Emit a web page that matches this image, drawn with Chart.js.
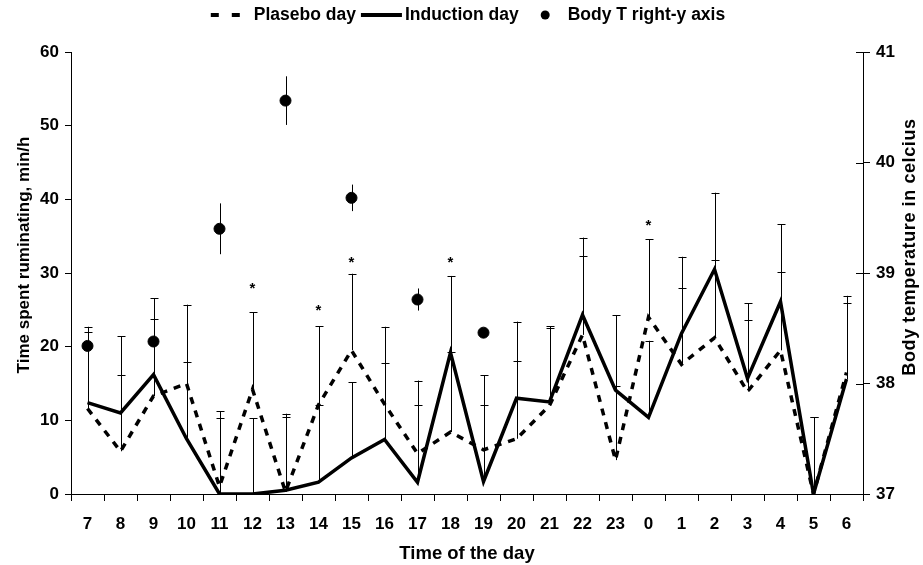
<!DOCTYPE html>
<html>
<head>
<meta charset="utf-8">
<script src="https://cdn.jsdelivr.net/npm/chart.js@4.4.1/dist/chart.umd.min.js"></script>
<style>
  html, body { margin: 0; padding: 0; background: #fff; }
  #wrap { width: 923px; height: 565px; }
</style>
</head>
<body>
<div id="wrap"><canvas id="c" width="923" height="565"></canvas></div>
<script>
// ---- data ----
const hours = ['7','8','9','10','11','12','13','14','15','16','17','18','19','20','21','22','23','0','1','2','3','4','5','6'];
const seriesNames = ['Plasebo day', 'Induction day', 'Body T right-y axis'];
const placebo   = [11.6, 5.8, 13.3, 15.0, 1.0, 14.2, 0.3, 12.1, 19.5, 12.2, 5.5, 8.4, 6.0, 7.5, 12.0, 21.6, 4.6, 24.0, 17.6, 21.2, 13.9, 19.5, 0, 16.5];
const placeboErr = [10.4, 10.3, 10.4, 10.7, 10.2, 10.5, 10.1, 10.7, 10.4, 10.5, 9.9, 10.9, 10.1, 10.5, 10.6, 10.7, 10.0, 10.6, 10.4, 10.6, 9.7, 10.6, 10.4, 10.4];
const induction = [12.4, 11.0, 16.2, 7.5, 0, 0, 0.5, 1.6, 4.9, 7.4, 1.6, 19.2, 1.7, 13.0, 12.5, 24.3, 14.1, 10.4, 21.8, 30.5, 15.7, 26.1, 0, 15.6];
const inductionErr = [10.3, 10.4, 10.4, 10.4, 10.3, 10.3, 10.4, 10.5, 10.3, 10.4, 10.5, 10.4, 10.4, 10.4, 10.3, 10.5, 10.2, 10.4, 10.4, 10.4, 10.2, 10.5, 10.4, 10.3];
const bodyT    = [38.34, null, 38.38, null, 39.40, null, 40.56, null, 39.68, null, 38.76, null, 38.46, null, null, null, null, null, null, null, null, null, null, null];
const bodyTErr = [0.08, null, 0.10, null, 0.23, null, 0.22, null, 0.12, null, 0.10, null, 0.03, null, null, null, null, null, null, null, null, null, null, null];
const starValues = [null, null, null, null, null, 28.4, null, 25.4, 32.0, null, null, 32.0, null, null, null, null, null, 37.0, null, null, null, null, null, null];
const yTicksLeft = { min: 0, max: 60, step: 10 };
const yTicksRight = { min: 37, max: 41, step: 1 };
const xTitle = 'Time of the day';
const yTitleLeft = 'Time spent ruminating, min/h';
const yTitleRight = 'Body temperature in celcius';

const FONT = '"Liberation Sans", Arial, sans-serif';
const tickFont = { family: FONT, size: 17, weight: 'bold' };

const extras = {
  id: 'extras',
  beforeDatasetsDraw(chart) {
    const ctx = chart.ctx;
    const xs = chart.scales.x;
    ctx.save();
    ctx.strokeStyle = '#000';
    ctx.lineWidth = 1;
    const drawErr = (dsIndex, vals, errs, both, cap) => {
      const ys = chart.scales[chart.getDatasetMeta(dsIndex).yAxisID];
      vals.forEach((v, i) => {
        if (v == null || errs[i] == null) return;
        const x = Math.round(xs.getPixelForValue(i)) + 0.5;
        const y0 = ys.getPixelForValue(both ? v - errs[i] : v);
        const y1 = ys.getPixelForValue(v + errs[i]);
        ctx.beginPath();
        ctx.moveTo(x, y0); ctx.lineTo(x, y1);
        if (cap) { ctx.moveTo(x - 4, Math.round(y1) + 0.5); ctx.lineTo(x + 4, Math.round(y1) + 0.5); }
        ctx.stroke();
      });
    };
    drawErr(0, placebo, placeboErr, false, true);
    drawErr(1, induction, inductionErr, false, true);
    drawErr(2, bodyT, bodyTErr, true, false);
    ctx.restore();
  },
  afterDraw(chart) {
    const ctx = chart.ctx;
    const xs = chart.scales.x, ys = chart.scales.y, y2 = chart.scales.y2;
    const ca = chart.chartArea;
    ctx.save();
    // inner half of the crossing ticks on the right axis
    ctx.strokeStyle = '#000'; ctx.lineWidth = 1;
    for (let v = yTicksRight.min; v <= yTicksRight.max; v += yTicksRight.step) {
      const y = Math.round(y2.getPixelForValue(v)) + 0.5;
      ctx.beginPath(); ctx.moveTo(ca.right - 7, y); ctx.lineTo(ca.right, y); ctx.stroke();
    }
    // asterisks
    ctx.fillStyle = '#000';
    ctx.font = 'bold 15px ' + FONT;
    ctx.textAlign = 'center';
    ctx.textBaseline = 'alphabetic';
    starValues.forEach((v, i) => {
      if (v == null) return;
      ctx.fillText('*', xs.getPixelForValue(i), ys.getPixelForValue(v) + 8.5);
    });
    // axis titles (rotated, reading upward)
    ctx.font = 'bold 17px ' + FONT;
    ctx.textBaseline = 'middle';
    ctx.save();
    ctx.translate(24, 255); ctx.rotate(-Math.PI / 2);
    ctx.fillText(yTitleLeft, 0, 0);
    ctx.restore();
    ctx.save();
    ctx.font = 'bold 18px ' + FONT;
    ctx.letterSpacing = '0.6px';
    ctx.translate(910, 247); ctx.rotate(-Math.PI / 2);
    ctx.fillText(yTitleRight, 0, 0);
    ctx.restore();
    // legend
    ctx.font = 'bold 17.5px ' + FONT;
    const w = seriesNames.map(t => ctx.measureText(t).width);
    const parts = [36, 9, w[0], 5, 41, 3, w[1], 22, 9, 18, w[2]];
    const total = parts.reduce((a, b) => a + b, 0);
    let x = (ca.left + ca.right) / 2 - total / 2;
    const ly = 15;
    ctx.textAlign = 'left';
    ctx.lineWidth = 4;
    ctx.setLineDash([8, 13]);
    ctx.beginPath(); ctx.moveTo(x + 2, ly); ctx.lineTo(x + 36, ly); ctx.stroke();
    ctx.setLineDash([]);
    x += 36 + 9;
    ctx.fillText(seriesNames[0], x, ly);
    x += w[0] + 5;
    ctx.beginPath(); ctx.moveTo(x, ly); ctx.lineTo(x + 41, ly); ctx.stroke();
    x += 41 + 3;
    ctx.fillText(seriesNames[1], x, ly);
    x += w[1] + 22;
    ctx.beginPath(); ctx.arc(x + 4.5, ly, 4.5, 0, Math.PI * 2); ctx.fill();
    x += 9 + 18;
    ctx.fillText(seriesNames[2], x, ly);
    ctx.restore();
  }
};

new Chart(document.getElementById('c'), {
  type: 'line',
  data: {
    labels: hours,
    datasets: [
      { label: seriesNames[0], data: placebo, yAxisID: 'y', borderColor: '#000', borderWidth: 3.5,
        borderDash: [7, 7], pointRadius: 0, tension: 0, fill: false },
      { label: seriesNames[1], data: induction, yAxisID: 'y', borderColor: '#000', borderWidth: 3.5,
        pointRadius: 0, tension: 0, fill: false },
      { label: seriesNames[2], data: bodyT, yAxisID: 'y2', showLine: false, pointRadius: 5.5,
        pointBackgroundColor: '#000', pointBorderColor: '#000', borderColor: '#000' }
    ]
  },
  options: {
    responsive: false,
    animation: false,
    devicePixelRatio: 1,
    layout: { padding: { top: 52, left: 0, right: 0, bottom: 0 } },
    plugins: { legend: { display: false }, tooltip: { enabled: false } },
    scales: {
      x: {
        type: 'category', offset: true,
        grid: { offset: true, drawOnChartArea: false, drawTicks: true, tickLength: 7, color: '#000', tickColor: '#000' },
        border: { color: '#000', width: 1 },
        ticks: { font: tickFont, color: '#000', padding: 13, maxRotation: 0, autoSkip: false },
        title: { display: true, text: xTitle, font: { family: FONT, size: 18.5, weight: 'bold' }, color: '#000', padding: { top: 0, bottom: 0 } },
        afterFit(s) { s.height = 71; }
      },
      y: {
        position: 'left', min: yTicksLeft.min, max: yTicksLeft.max,
        grid: { drawOnChartArea: false, drawTicks: true, tickLength: 6, color: '#000', tickColor: '#000' },
        border: { color: '#000', width: 1 },
        ticks: { stepSize: yTicksLeft.step, font: tickFont, color: '#000', padding: 6 },
        afterFit(s) { s.width = 71; }
      },
      y2: {
        position: 'right', min: yTicksRight.min, max: yTicksRight.max,
        grid: { drawOnChartArea: false, drawTicks: true, tickLength: 7, color: '#000', tickColor: '#000' },
        border: { color: '#000', width: 1 },
        ticks: { stepSize: yTicksRight.step, font: tickFont, color: '#000', padding: 6 },
        afterFit(s) { s.width = 60; }
      }
    }
  },
  plugins: [extras]
});
</script>
</body>
</html>
